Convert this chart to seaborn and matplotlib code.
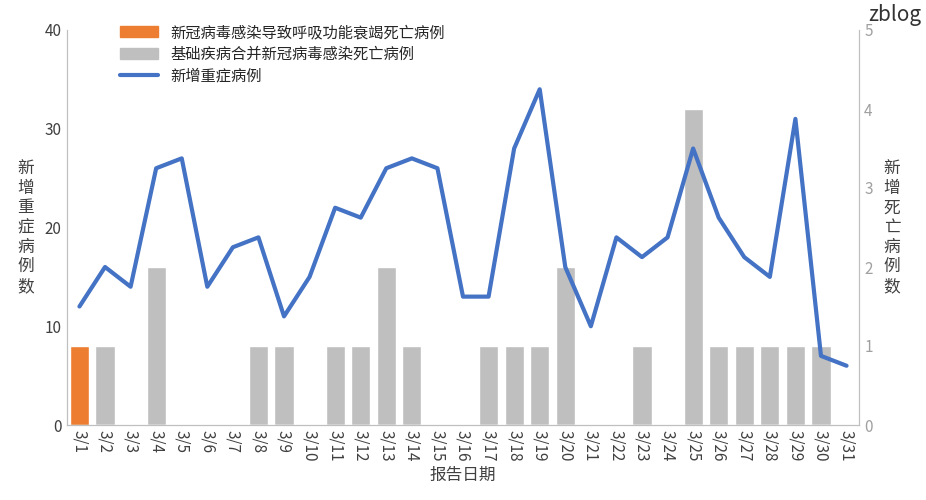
import matplotlib
matplotlib.use("Agg")
import matplotlib.pyplot as plt
import seaborn as sns
import pandas as pd
from matplotlib.patches import Patch
from matplotlib.lines import Line2D

sns.set_style("white")
plt.rcParams['font.family'] = ['Noto Sans CJK SC', 'DejaVu Sans']

dates = [f"3/{i}" for i in range(1, 32)]
severe = [12,16,14,26,27,14,18,19,11,15,22,21,26,27,26,13,13,28,34,16,10,19,17,19,28,21,17,15,31,7,6]
resp_deaths = [1] + [0]*30
basic_deaths = [0,1,0,2,0,0,0,1,1,0,1,1,2,1,0,0,1,1,1,2,0,0,1,0,4,1,1,1,1,1,0]

df = pd.DataFrame({"date": dates, "severe": severe, "resp": resp_deaths, "basic": basic_deaths})

fig, ax2 = plt.subplots(figsize=(9.26, 5.0), dpi=100)
ax = ax2.twinx()
# bars on ax2 (to be displayed as right axis), line on ax (left axis)
sns.barplot(data=df, x="date", y="basic", color="#bfbfbf", saturation=1, width=0.75, ax=ax2)
sns.barplot(data=df, x="date", y="resp", color="#ed7d31", saturation=1, width=0.75, ax=ax2)
sns.lineplot(x=list(range(31)), y=df["severe"], color="#4472c4", lw=3, ax=ax)

ax2.yaxis.tick_right(); ax2.yaxis.set_label_position("right")
ax.yaxis.tick_left(); ax.yaxis.set_label_position("left")
ax2.set_ylim(0, 5); ax.set_ylim(0, 40)
ax.set_yticks(range(0, 41, 10)); ax2.set_yticks(range(0, 6))
ax2.set_xlim(-0.5, 30.5); ax.set_xlim(-0.5, 30.5)
ax2.set_xticks(range(31)); ax2.set_xticklabels(dates, rotation=-90, fontsize=10)
ax2.set_xlabel("报告日期", fontsize=12, color="#404040")
ax2.set_ylabel("")
ax.set_ylabel("新\n增\n重\n症\n病\n例\n数", rotation=0, va="center", labelpad=14, fontsize=12, color="#404040")
ax2.set_ylabel("新\n增\n死\n亡\n病\n例\n数", rotation=0, va="center", labelpad=14, fontsize=12, color="#404040")
for a in (ax, ax2):
    a.tick_params(labelsize=11, colors="#404040", length=0)
    for s in a.spines.values():
        s.set_color("#bfbfbf")
    a.spines["top"].set_visible(False)
ax2.tick_params(axis="y", colors="#a0a0a0")

handles = [Patch(color="#ed7d31", label="新冠病毒感染导致呼吸功能衰竭死亡病例"),
           Patch(color="#bfbfbf", label="基础疾病合并新冠病毒感染死亡病例"),
           Line2D([], [], color="#4472c4", lw=3, label="新增重症病例")]
ax.legend(handles=handles, loc="upper left", bbox_to_anchor=(0.05, 1.05), frameon=False, fontsize=11, handlelength=2.5, labelspacing=0.3)
fig.text(0.995, 0.97, "zblog", ha="right", va="center", fontsize=15, color="#333333")
fig.subplots_adjust(left=0.072, right=0.928, top=0.94, bottom=0.15)
fig.savefig("out.png", dpi=100)
